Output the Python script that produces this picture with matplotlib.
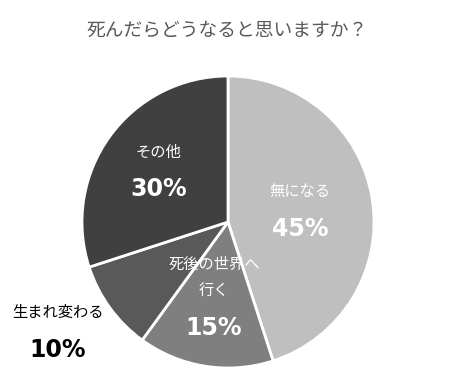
import numpy as np
import matplotlib
matplotlib.use("Agg")
import matplotlib.pyplot as plt

plt.rcParams['font.family'] = ['Noto Sans CJK JP', 'DejaVu Sans']

# data
labels = ["無になる", "死後の世界へ\n行く", "生まれ変わる", "その他"]
values = [45, 15, 10, 30]
colors = ["#bfbfbf", "#7f7f7f", "#595959", "#404040"]
text_colors = ["white", "white", "black", "white"]
label_radius = [0.5, 0.61, 1.385, 0.59]
label_turn = [0, 0, -3.2, 0]   # degrees off the wedge middle
title = "死んだらどうなると思いますか？"

W, H = 455, 386
fig = plt.figure(figsize=(W / 100, H / 100), dpi=100)
fig.patch.set_facecolor("white")

# pie centre / radius in pixels
cx, cy, r = 228, 222, 146
ax = fig.add_axes([(cx - r) / W, (H - cy - r) / H, 2 * r / W, 2 * r / H])
wedges, _ = ax.pie(values, colors=colors, startangle=90, counterclock=False,
                   radius=1, wedgeprops=dict(edgecolor="white", linewidth=2))
ax.set_xlim(-1, 1)
ax.set_ylim(-1, 1)
ax.set_aspect("equal")
ax.axis("off")

for w, lab, v, tc, lr, dt in zip(wedges, labels, values, text_colors, label_radius, label_turn):
    ang = np.deg2rad((w.theta1 + w.theta2) / 2 + dt)
    x, y = lr * np.cos(ang), lr * np.sin(ang)
    nlines = lab.count("\n") + 1
    ax.annotate(lab, (x, y), xytext=(0, 14 + 9 * (nlines - 1)), textcoords="offset points",
                ha="center", va="center", fontsize=11, color=tc, linespacing=1.75,
                annotation_clip=False)
    ax.annotate(f"{v}%", (x, y), xytext=(0, -13), textcoords="offset points",
                ha="center", va="center", fontsize=17, fontweight="bold", color=tc,
                family=["DejaVu Sans"], annotation_clip=False)

fig.text(0.5, 1 - 30 / H, title, ha="center", va="center", fontsize=13.5, color="#595959")

fig.savefig("out.png", dpi=100, facecolor="white")
